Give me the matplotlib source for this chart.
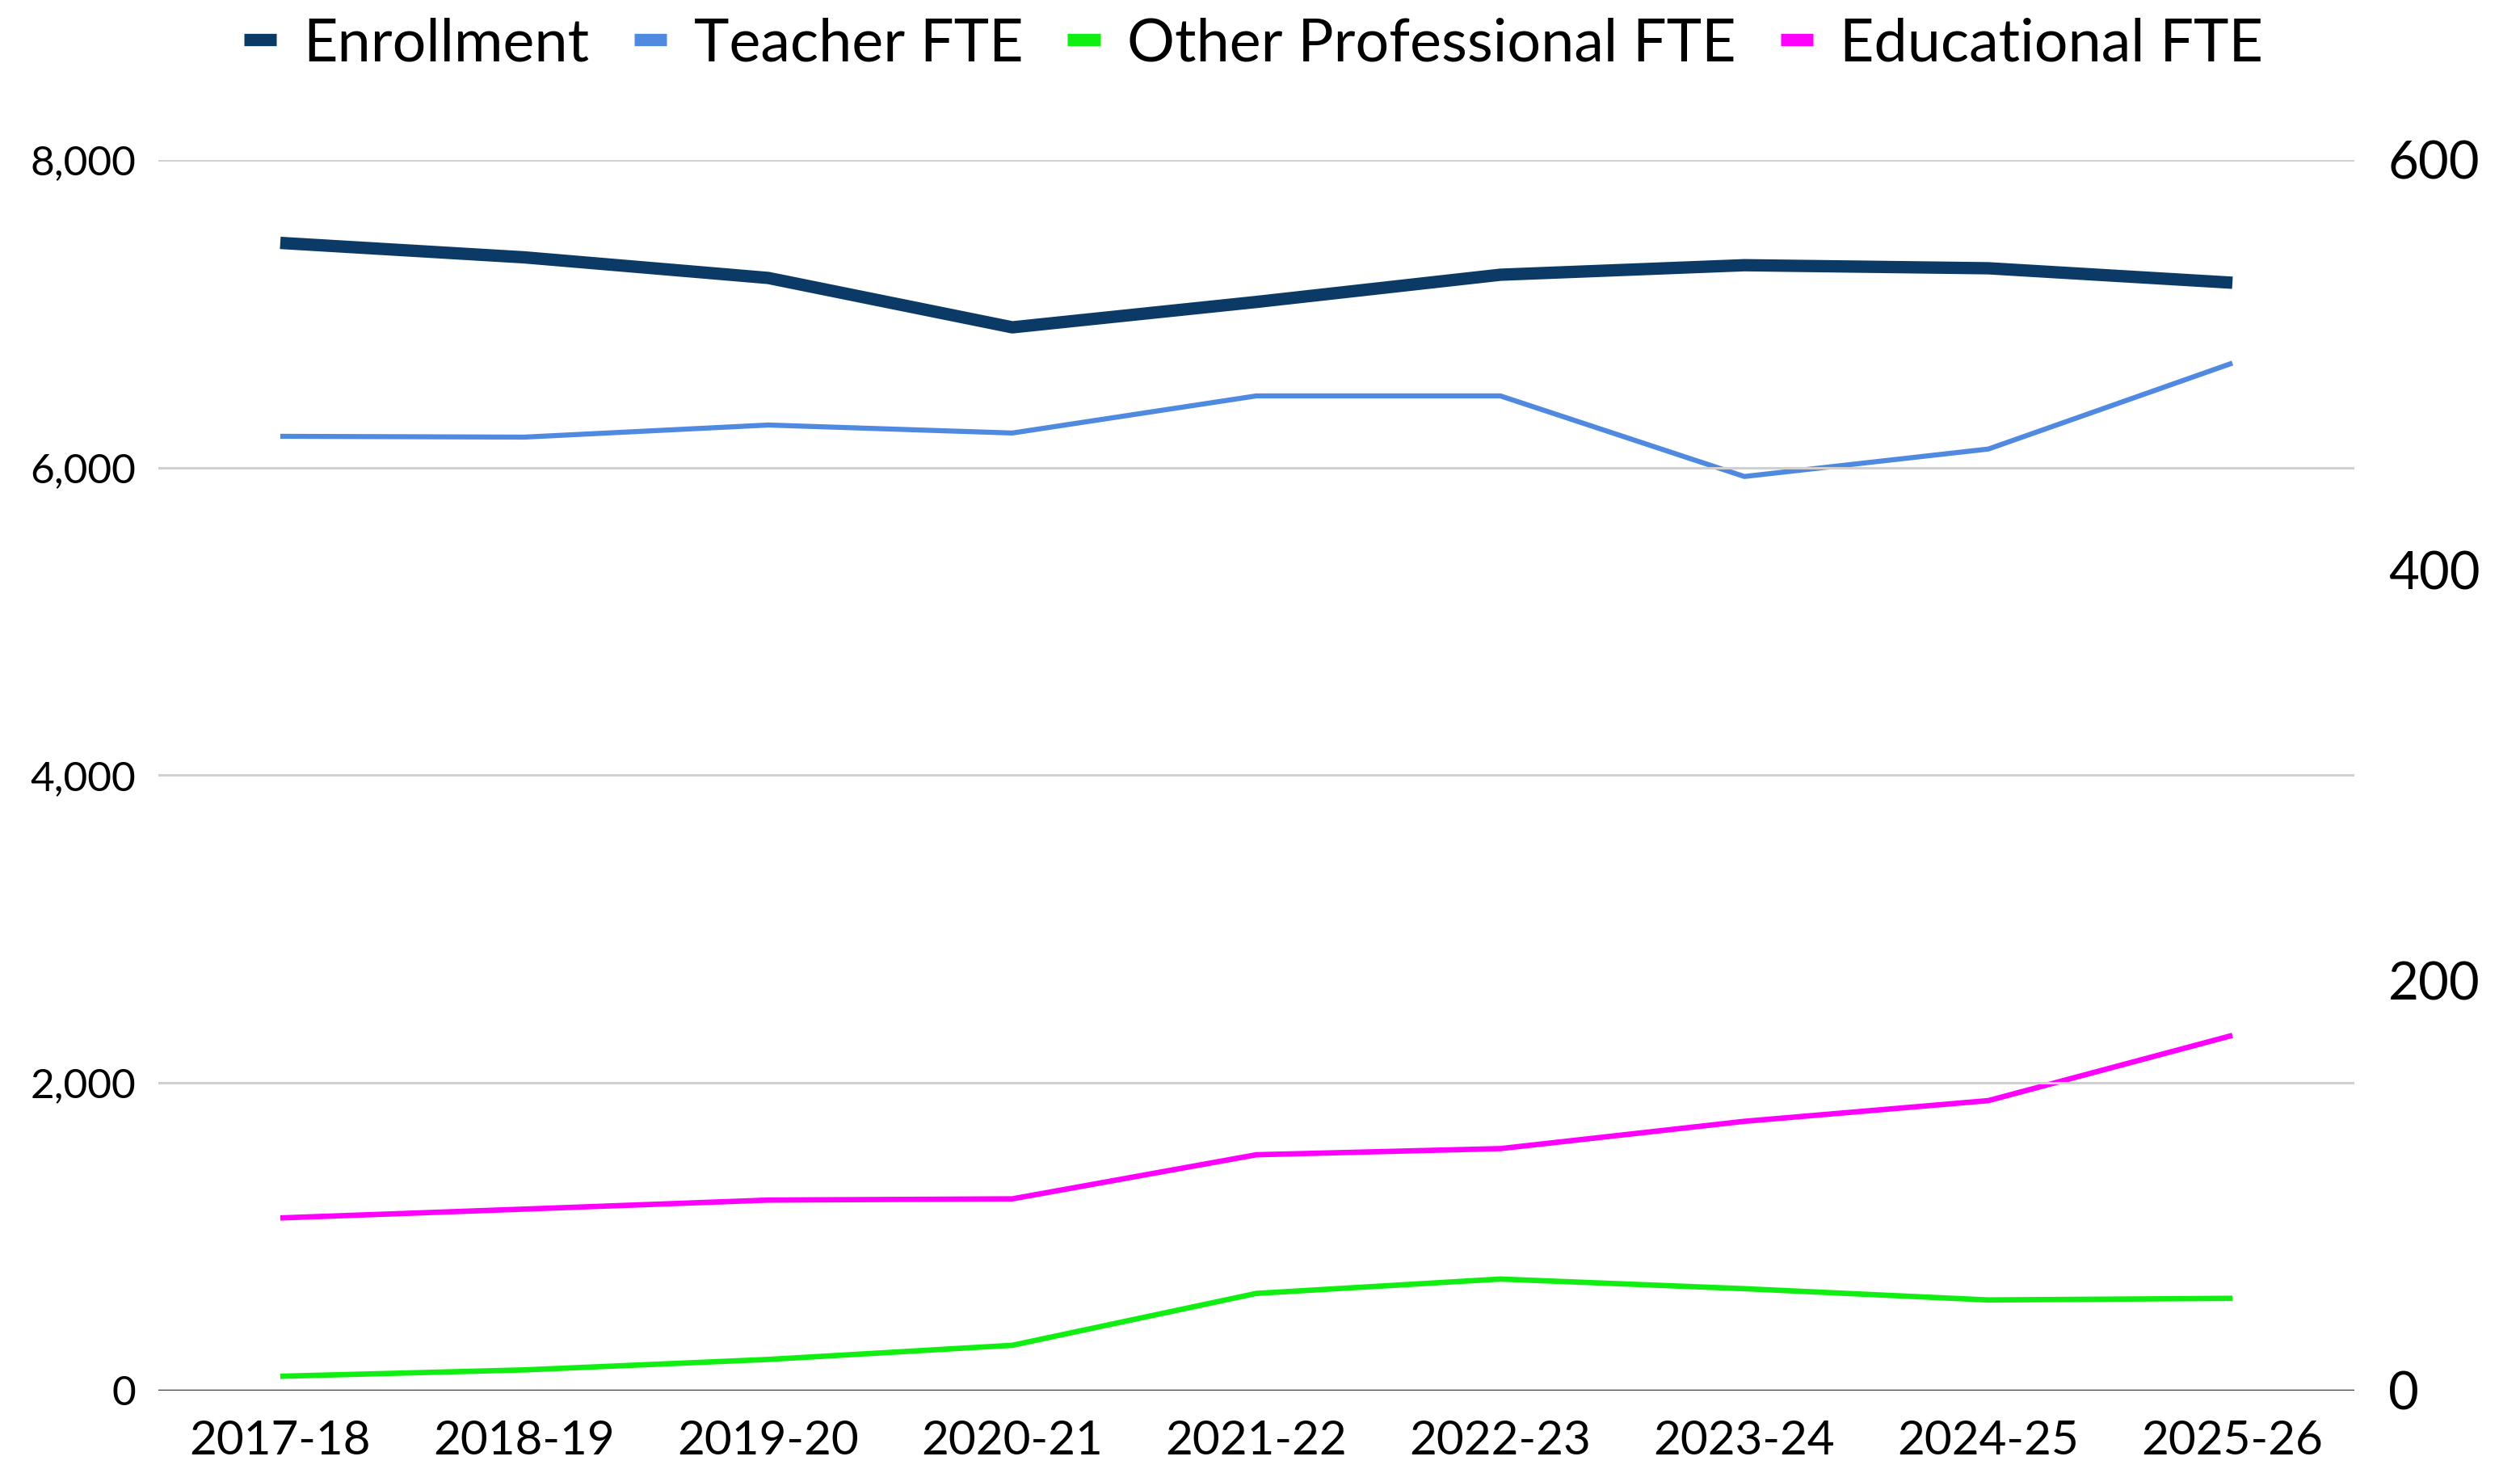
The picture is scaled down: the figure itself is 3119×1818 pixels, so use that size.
import matplotlib
matplotlib.use("Agg")
import matplotlib.pyplot as plt
from matplotlib.lines import Line2D
import numpy as np

plt.rcParams['font.family'] = ['Lato', 'DejaVu Sans']

# data
years = ['2017-18', '2018-19', '2019-20', '2020-21', '2021-22',
         '2022-23', '2023-24', '2024-25', '2025-26']
enrollment = [7460, 7366, 7232, 6911, 7076, 7253, 7315, 7295, 7201]
teacher_fte = [465.2, 464.8, 470.7, 466.8, 484.9, 484.9, 445.6, 459.0, 500.9]
other_prof_fte = [6.9, 10.0, 15.1, 22.0, 47.3, 54.3, 49.6, 44.1, 44.9]
educational_fte = [84.1, 88.4, 92.8, 93.4, 114.9, 117.9, 131.2, 141.3, 173.1]

left_ticks = [0, 2000, 4000, 6000, 8000]
right_ticks = [0, 200, 400, 600]

c_enr = '#0b3a66'
c_tch = '#5089e0'
c_oth = '#11ee11'
c_edu = '#ff00ff'

fig = plt.figure(figsize=(31.19, 18.18), dpi=100)
ax = fig.add_axes([0.0628, 0.0535, 0.8715, 0.8377])
ax2 = ax.twinx()

x = np.arange(len(years))

ax.set_ylim(0, 8000)
ax.set_xlim(-0.5, len(years) - 0.5)
ax.set_yticks(left_ticks)
ax.set_yticklabels([f'{v:,}' for v in left_ticks])
ax.grid(axis='y', color='#d0d0d0', linewidth=2.2)
ax.set_axisbelow(True)
ax.set_xticks(x)
ax.set_xticklabels(years)
ax.tick_params(axis='y', length=0, labelsize=37, pad=20)
ax.tick_params(axis='x', length=0, labelsize=42, pad=26)

ax2.set_ylim(0, 600)
ax2.set_yticks(right_ticks)
ax2.tick_params(axis='y', length=0, labelsize=47, pad=30)

for a in (ax, ax2):
    for s in ['top', 'left', 'right', 'bottom']:
        a.spines[s].set_visible(False)
ax.axhline(0, color='#404040', linewidth=2.5, zorder=3)

ax2.plot(x, other_prof_fte, color=c_oth, linewidth=4.8, solid_capstyle='butt', zorder=4)
ax2.plot(x, educational_fte, color=c_edu, linewidth=4.8, solid_capstyle='butt', zorder=4)
ax2.plot(x, teacher_fte, color=c_tch, linewidth=4.5, solid_capstyle='butt', zorder=4)
ax.plot(x, enrollment, color=c_enr, linewidth=11, solid_capstyle='butt', zorder=5)
ax.set_zorder(ax2.get_zorder() + 1)
ax.patch.set_visible(False)

handles = [Line2D([], [], color=c, linewidth=11, solid_capstyle='butt')
           for c in (c_enr, c_tch, c_oth, c_edu)]
labels = ['Enrollment', 'Teacher FTE', 'Other Professional FTE', 'Educational FTE']
fig.legend(handles, labels, loc='center', bbox_to_anchor=(0.4975, 0.97), ncol=4,
           frameon=False, fontsize=53, handlelength=0.55, handletextpad=0.45,
           columnspacing=0.75)

fig.savefig('out.png', dpi=100, facecolor='white')
